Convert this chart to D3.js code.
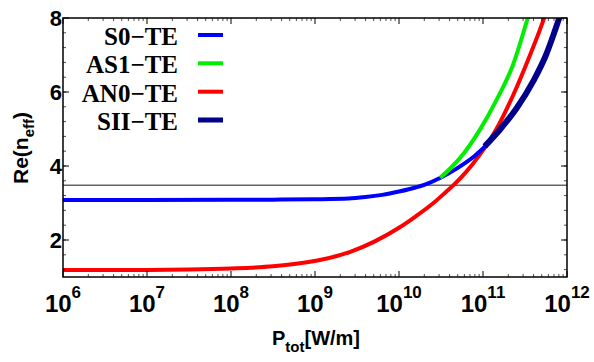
<!DOCTYPE html>
<html><head><meta charset="utf-8">
<script src="https://cdn.jsdelivr.net/npm/d3@7"></script>
<style>body{margin:0;background:#fff}svg{display:block}
.lg{font-family:"Liberation Serif","Times New Roman",Times,"DejaVu Serif","Noto Serif","Nimbus Roman","FreeSerif",serif;font-weight:bold}</style>
</head><body>
<svg id="c" width="594" height="362"></svg>
<script>
// x values are log10(P_tot)
const s0LogP  = [6, 7, 8, 8.5, 9, 9.4, 9.6, 9.8, 10.0, 10.2, 10.3, 10.5, 10.7, 10.9, 11.05];
const s0Val   = [3.08, 3.08, 3.085, 3.09, 3.10, 3.12, 3.16, 3.22, 3.31, 3.42, 3.49, 3.69, 3.95, 4.27, 4.58];
const as1LogP = [10.49, 10.63, 10.77, 10.96, 11.16, 11.36, 11.52, 11.6];
const as1Val  = [3.68, 3.98, 4.34, 4.97, 5.78, 6.75, 7.9, 8.5];
const an0LogP = [6, 7, 7.5, 8, 8.5, 8.82, 9.1, 9.42, 9.7, 10.0, 10.2, 10.41, 10.55, 10.67, 10.8, 10.96, 11.16, 11.36, 11.56, 11.72, 11.8];
const an0Val  = [1.19, 1.19, 1.20, 1.23, 1.29, 1.37, 1.48, 1.68, 1.95, 2.33, 2.64, 3.0, 3.28, 3.53, 3.84, 4.3, 5.0, 5.92, 7.0, 7.95, 8.5];
const siiLogP = [11.02, 11.2, 11.4, 11.6, 11.75, 11.9, 11.98];
const siiVal  = [4.53, 4.98, 5.56, 6.3, 7.0, 7.95, 8.5];
const refLine = 3.48;
const legendNames  = ["S0\u2212TE", "AS1\u2212TE", "AN0\u2212TE", "SII\u2212TE"];
const legendColors = ["#0000ff", "#00ee00", "#ff0000", "#00008b"];
const xTickExp = [6, 7, 8, 9, 10, 11, 12];
const yTicks = [2, 4, 6, 8];

const svg = d3.select("#c");
const L = 63, R = 567, T = 18, B = 277;
const x = d3.scaleLog().domain([1e6, 1e12]).range([L, R]);
const y = d3.scaleLinear().domain([1, 8]).range([B, T]);

svg.append("clipPath").attr("id", "clip").append("rect")
  .attr("x", L).attr("y", T).attr("width", R - L).attr("height", B - T);

const plot = svg.append("g").attr("clip-path", "url(#clip)");
plot.append("line").attr("x1", L).attr("x2", R).attr("y1", y(refLine)).attr("y2", y(refLine))
  .attr("stroke", "#666").attr("stroke-width", 1.5);

function series(lp, v) { return lp.map((d, i) => [Math.pow(10, d), v[i]]); }
const line = d3.line().x(d => x(d[0])).y(d => y(d[1])).curve(d3.curveMonotoneX);
const data = [
  [series(an0LogP, an0Val), legendColors[2], 4],
  [series(s0LogP, s0Val), legendColors[0], 4],
  [series(as1LogP, as1Val), legendColors[1], 4],
  [series(siiLogP, siiVal), legendColors[3], 6]
];
data.forEach(([d, c, w]) => {
  plot.append("path").datum(d).attr("d", line).attr("fill", "none")
    .attr("stroke", c).attr("stroke-width", w).attr("stroke-linecap", "butt");
});

// ticks
const tk = svg.append("g").attr("stroke", "#000");
const minorX = [];
for (let e = 6; e < 12; e++) for (let m = 2; m <= 9; m++) minorX.push(m * Math.pow(10, e));
xTickExp.forEach(e => {
  const px = x(Math.pow(10, e));
  tk.append("line").attr("x1", px).attr("x2", px).attr("y1", B).attr("y2", B - 6).attr("stroke-width", 1);
  tk.append("line").attr("x1", px).attr("x2", px).attr("y1", T).attr("y2", T + 6).attr("stroke-width", 1);
});
minorX.forEach(v => {
  const px = x(v);
  tk.append("line").attr("x1", px).attr("x2", px).attr("y1", B).attr("y2", B - 3).attr("stroke-width", 0.7);
  tk.append("line").attr("x1", px).attr("x2", px).attr("y1", T).attr("y2", T + 3).attr("stroke-width", 0.7);
});
d3.range(1.2, 8, 0.4).forEach(v => {
  const py = y(v);
  tk.append("line").attr("x1", L).attr("x2", L + 3).attr("y1", py).attr("y2", py).attr("stroke-width", 0.7);
  tk.append("line").attr("x1", R).attr("x2", R - 3).attr("y1", py).attr("y2", py).attr("stroke-width", 0.7);
});
yTicks.forEach(v => {
  const py = y(v);
  tk.append("line").attr("x1", L).attr("x2", L + 6).attr("y1", py).attr("y2", py).attr("stroke-width", 1);
  tk.append("line").attr("x1", R).attr("x2", R - 6).attr("y1", py).attr("y2", py).attr("stroke-width", 1);
});
svg.append("rect").attr("x", L).attr("y", T).attr("width", R - L).attr("height", B - T)
  .attr("fill", "none").attr("stroke", "#000").attr("stroke-width", 1.5);

// tick labels
const sans = "'Liberation Sans', Arial, Helvetica, sans-serif";
yTicks.forEach(v => {
  svg.append("text").attr("x", L - 1).attr("y", y(v) + 8).attr("text-anchor", "end")
    .attr("font-family", sans).attr("font-weight", "bold").attr("font-size", 22).text(v);
});
xTickExp.forEach(e => {
  const t = svg.append("text").attr("x", x(Math.pow(10, e))).attr("y", 312).attr("text-anchor", "middle")
    .attr("font-family", sans).attr("font-weight", "bold").attr("font-size", 24);
  t.append("tspan").text("10");
  t.append("tspan").attr("dy", -14).attr("font-size", 17).text(e);
});

// axis labels
const xl = svg.append("text").attr("x", 316).attr("y", 345).attr("text-anchor", "middle")
  .attr("font-family", sans).attr("font-weight", "bold").attr("font-size", 20);
xl.append("tspan").text("P");
xl.append("tspan").attr("dy", 7).attr("font-size", 15).text("tot");
xl.append("tspan").attr("dy", -7).text("[W/m]");

const yl = svg.append("text").attr("transform", "translate(28,148) rotate(-90)").attr("text-anchor", "middle")
  .attr("font-family", sans).attr("font-weight", "bold").attr("font-size", 21);
yl.append("tspan").text("Re(n");
yl.append("tspan").attr("dy", 6).attr("font-size", 15).text("eff");
yl.append("tspan").attr("dy", -6).text(")");

// legend
const lgY = [45, 73.3, 101.7, 130];
legendNames.forEach((n, i) => {
  svg.append("text").attr("class", "lg").attr("x", 178).attr("y", lgY[i]).attr("text-anchor", "end")
    .attr("font-size", 25).text(n);
  svg.append("line").attr("x1", 198).attr("x2", 223).attr("y1", lgY[i] - 10).attr("y2", lgY[i] - 10)
    .attr("stroke", legendColors[i]).attr("stroke-width", i === 3 ? 5 : 4);
});
</script>
</body></html>
